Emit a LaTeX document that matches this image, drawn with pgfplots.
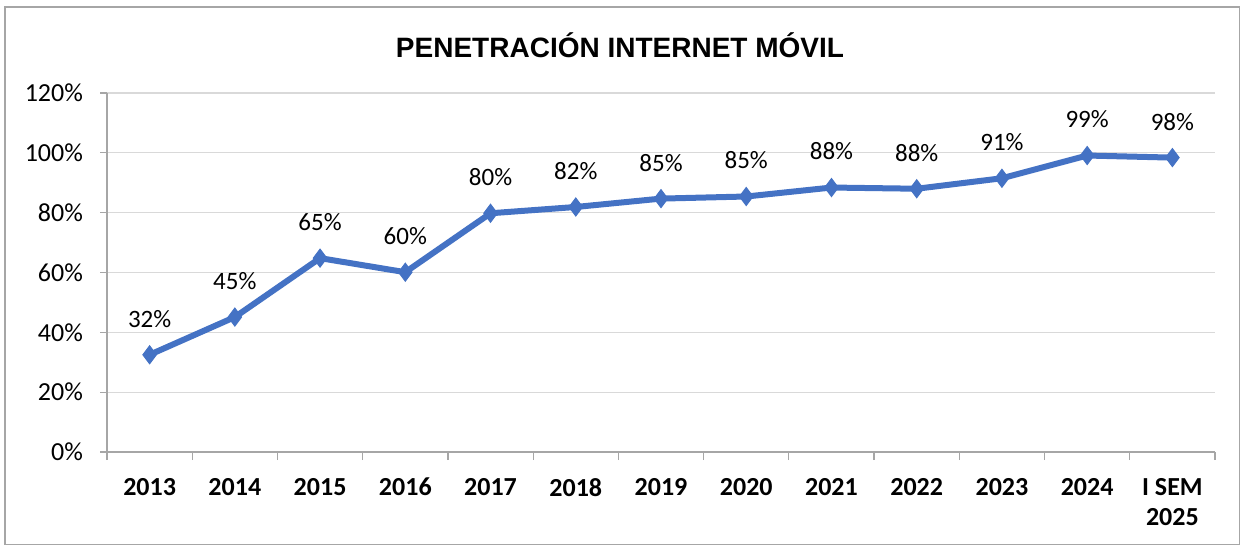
\documentclass[border=0pt]{standalone}
\usepackage{fontspec}
\setmainfont{Carlito}
\newfontfamily\titlefont{Liberation Sans}
\usepackage{pgfplots}
\pgfplotsset{compat=1.18}
\usepackage{pgfplotstable}
\definecolor{serie}{HTML}{4472C4}
\definecolor{grilla}{HTML}{D9D9D9}
\definecolor{eje}{HTML}{A6A6A6}
\definecolor{marco}{HTML}{A6A6A6}

\pgfplotstableread{
x  y     lab
0  32.5  32\%
1  45.1  45\%
2  64.8  65\%
3  60.1  60\%
4  79.8  80\%
5  81.9  82\%
6  84.7  85\%
7  85.4  85\%
8  88.4  88\%
9  88.0  88\%
10 91.5  91\%
11 99.1  99\%
12 98.4  98\%
}\penetracion

\begin{document}
\begin{tikzpicture}
\useasboundingbox (-53.5pt,-46.5pt) rectangle (566.5pt,226pt);
\draw[marco, line width=0.6pt] (-51pt,-46.5pt) rectangle (566.5pt,222.5pt);
\begin{axis}[
    at={(0,0)}, anchor=south west,
    scale only axis,
    width=554pt, height=179.5pt,
    xmin=-0.5, xmax=12.5,
    ymin=0, ymax=120,
    axis x line*=bottom,
    axis y line*=left,
    axis line style={eje, line width=0.6pt, -},
    xtick=data,
    xticklabels={2013,2014,2015,2016,2017,2018,2019,2020,2021,2022,2023,2024,{I SEM\\2025}},
    xticklabel style={font=\bfseries\fontsize{13}{15}\selectfont, align=center, yshift=-6pt},
    major x tick style={draw=none},
    minor xtick={-0.5,0.5,...,12.5},
    minor x tick style={eje, line width=0.6pt},
    minor tick length=4pt,
    ytick={0,20,...,120},
    yticklabels={0\%,20\%,40\%,60\%,80\%,100\%,120\%},
    yticklabel style={xshift=-5pt, font=\fontsize{13}{15}\selectfont},
    major y tick style={eje, line width=0.6pt},
    major tick length=3.5pt,
    tick align=outside,
    ymajorgrids,
    grid style={grilla, line width=0.6pt},
    clip=false,
]
\addplot[serie, line width=3pt, mark=diamond*, mark size=4.5pt,
    mark options={fill=serie, line width=0.5pt},
    point meta=explicit symbolic,
    nodes near coords,
    nodes near coords style={font=\fontsize{12.5}{14}\selectfont, black, anchor=center, yshift=18pt}]
    table[x=x, y=y, meta=lab] {\penetracion};
\end{axis}
\node[font=\titlefont\bfseries\fontsize{14}{16}\selectfont] at (256.5pt,203.5pt) {PENETRACIÓN INTERNET MÓVIL};
\end{tikzpicture}
\end{document}
